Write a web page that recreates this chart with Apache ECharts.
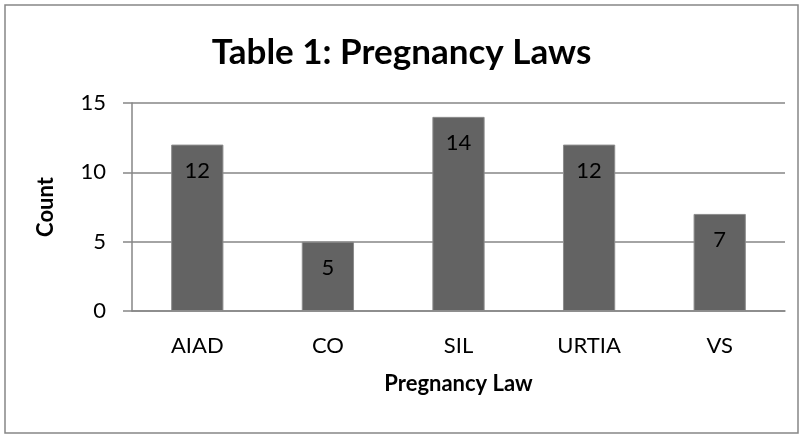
<!DOCTYPE html>
<html>
<head>
<meta charset="utf-8">
<script src="https://cdn.jsdelivr.net/npm/echarts@6/dist/echarts.min.js"></script>
<style>
    html, body { margin: 0; padding: 0; background: #fff; }
    #chart { width: 803px; height: 435px; }
</style>
</head>
<body>
<div id="chart"></div>
<script>
var categories = ['AIAD', 'CO', 'SIL', 'URTIA', 'VS'];
var counts = [12, 5, 14, 12, 7];
var yTicks = [0, 5, 10, 15];

var myChart = echarts.init(document.getElementById('chart'));

var option = {
    backgroundColor: '#fff',
    textStyle: { fontFamily: 'Lato' },
    title: {
        text: 'Table 1: Pregnancy Laws',
        left: 'center',
        top: 30,
        textStyle: { fontSize: 35, fontWeight: 'bold', color: '#000', fontFamily: 'Lato' }
    },
    graphic: [{
        type: 'rect',
        shape: { x: 5, y: 5, width: 793, height: 428 },
        style: { fill: 'none', stroke: '#868686', lineWidth: 1.5 },
        silent: true
    }],
    grid: { left: 132, right: 18, top: 103, bottom: 124 },
    xAxis: {
        type: 'category',
        data: categories,
        name: 'Pregnancy Law',
        nameLocation: 'middle',
        nameGap: 62,
        nameTextStyle: { fontSize: 22, fontWeight: 'bold', color: '#000' },
        axisLine: { lineStyle: { color: '#868686', width: 1.5 } },
        axisTick: { show: false },
        axisLabel: { fontSize: 22, color: '#000', margin: 24 }
    },
    yAxis: {
        type: 'value',
        min: yTicks[0],
        max: yTicks[yTicks.length - 1],
        interval: 5,
        name: 'Count',
        nameLocation: 'middle',
        nameGap: 75,
        nameTextStyle: { fontSize: 22, fontWeight: 'bold', color: '#000' },
        axisLine: { show: true, lineStyle: { color: '#868686', width: 1.5 } },
        axisTick: { show: true, length: 9, lineStyle: { color: '#868686', width: 1.5 } },
        splitLine: { lineStyle: { color: '#868686', width: 1.5 } },
        axisLabel: { fontSize: 22, color: '#000', margin: 26 }
    },
    series: [{
        type: 'bar',
        data: counts,
        barWidth: '40%',
        itemStyle: { color: '#636363', borderColor: '#8c8c8c', borderWidth: 1 },
        label: {
            show: true,
            position: 'insideTop',
            distance: 15,
            fontSize: 22,
            color: '#000'
        }
    }]
};

myChart.setOption(option);
</script>
</body>
</html>
